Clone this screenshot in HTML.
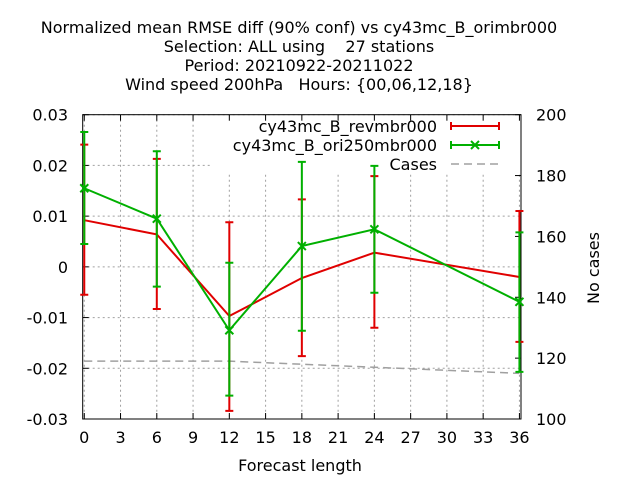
<!DOCTYPE html>
<html><head><meta charset="utf-8"><style>
body{margin:0;background:#fff;}
svg text{font-family:"DejaVu Sans","Liberation Sans",sans-serif;font-size:16px;fill:#000;}
</style></head><body>
<svg id="c" width="640" height="480" viewBox="0 0 640 480">
<g>
<text x="299" y="33" text-anchor="middle">Normalized mean RMSE diff (90% conf) vs cy43mc_B_orimbr000</text>
<text x="299" y="52" text-anchor="middle" xml:space="preserve">Selection: ALL using    27 stations</text>
<text x="299" y="71" text-anchor="middle">Period: 20210922-20211022</text>
<text x="299" y="90" text-anchor="middle" xml:space="preserve">Wind speed 200hPa   Hours: {00,06,12,18}</text>
</g>
<text x="300" y="471" text-anchor="middle">Forecast length</text>
<text transform="translate(599,268) rotate(-90)" text-anchor="middle">No cases</text>
<g id="grid"></g><g id="axes"></g><g id="series"></g><g id="legend"></g>
</svg>
<script>
const steps=[0,6,12,18,24,36];
const redVal=[0.0092,0.0064,-0.0097,-0.0022,0.0028,-0.0020];
const redHi=[0.0241,0.0213,0.0088,0.0133,0.0179,0.0110];
const redLo=[-0.0055,-0.0083,-0.0284,-0.0176,-0.0120,-0.0148];
const grnVal=[0.0155,0.0095,-0.0125,0.0041,0.0074,-0.0069];
const grnHi=[0.0266,0.0228,0.0008,0.0207,0.0199,0.0068];
const grnLo=[0.0045,-0.0039,-0.0254,-0.0126,-0.0051,-0.0207];
const cases=[119,119,119,118,117,115];
const xTicks=[0,3,6,9,12,15,18,21,24,27,30,33,36];
const yTicks=[-0.03,-0.02,-0.01,0,0.01,0.02,0.03];
const yTickLabels=["-0.03","-0.02","-0.01","0","0.01","0.02","0.03"];
const y2Ticks=[100,120,140,160,180,200];

const L=82.7,R=521,T=114.7,B=419;
const X=v=>L+(v+0.13)/(36.26)*(R-L);
const Y=v=>B-(v+0.03)/0.06*(B-T);
const Y2=v=>B-(v-100)/100*(B-T);
const NS='http://www.w3.org/2000/svg';
function mk(tag,attrs,parent){const e=document.createElementNS(NS,tag);for(const k in attrs)e.setAttribute(k,attrs[k]);document.getElementById(parent).appendChild(e);return e;}

xTicks.forEach(t=>{
 const g=mk('line',{x1:X(t),x2:X(t),y1:T,y2:B,stroke:'#a0a0a0','stroke-width':1,'stroke-dasharray':'2,3'},'grid');
 
 
 mk('line',{x1:X(t),x2:X(t),y1:B,y2:B-6,stroke:'#000'},'axes');
 mk('line',{x1:X(t),x2:X(t),y1:T,y2:T+6,stroke:'#000'},'axes');
 const tx=mk('text',{x:X(t),y:B+24,'text-anchor':'middle'},'axes');tx.textContent=t;
 
 
});
yTicks.forEach((t,i)=>{
 const g=mk('line',{x1:L,x2:R,y1:Y(t),y2:Y(t),stroke:'#a0a0a0','stroke-width':1,'stroke-dasharray':'2,3'},'grid');
 
 
 mk('line',{x1:L,x2:L+6,y1:Y(t),y2:Y(t),stroke:'#000'},'axes');
 const tx=mk('text',{x:68,y:Y(t)+6,'text-anchor':'end'},'axes');tx.textContent=yTickLabels[i];
 
 
});
y2Ticks.forEach(t=>{
 mk('line',{x1:R,x2:R-6,y1:Y2(t),y2:Y2(t),stroke:'#000'},'axes');
 const tx=mk('text',{x:536,y:Y2(t)+6},'axes');tx.textContent=t;
 
 
});
mk('rect',{x:210,y:T+1,width:R-211,height:58,fill:'#fff'},'grid');
const fr=mk('rect',{x:L,y:T,width:R-L,height:B-T,fill:'none',stroke:'#000','stroke-width':1},'axes');



const cl=mk('polyline',{points:steps.map((s,i)=>X(s)+','+Y2(cases[i])).join(' '),fill:'none',stroke:'#a0a0a0','stroke-width':1.5,'stroke-dasharray':'8,5'},'series');



function series(val,hi,lo,col,name,marker){
 const p=mk('polyline',{points:steps.map((s,i)=>X(s)+','+Y(val[i])).join(' '),fill:'none',stroke:col,'stroke-width':2},'series');
 
 
 steps.forEach((s,i)=>{
  const x=X(s);
  const e=mk('path',{d:`M${x},${Y(lo[i])}V${Y(hi[i])}M${x-4},${Y(lo[i])}h8M${x-4},${Y(hi[i])}h8`,stroke:col,'stroke-width':2,fill:'none'},'series');
  
  
  if(marker){const y=Y(val[i]);
   const m=mk('path',{d:`M${x-4},${y-4}l8,8M${x-4},${y+4}l8,-8`,stroke:col,'stroke-width':2},'series');
   
   }
 });
}
series(redVal,redHi,redLo,'#e00000','revmbr000',false);
series(grnVal,grnHi,grnLo,'#00b000','ori250mbr000',true);

const leg=[["cy43mc_B_revmbr000",'#e00000',0],["cy43mc_B_ori250mbr000",'#00b000',1],["Cases",'#a0a0a0',2]];
leg.forEach(([t,c,k],i)=>{
 const y=126+i*19;
 const tx=mk('text',{x:437,y:y+6,'text-anchor':'end'},'legend');tx.textContent=t;
 
 
 if(k<2){
  const l=mk('path',{d:`M451,${y}H499M451,${y-4}v8M499,${y-4}v8`,stroke:c,'stroke-width':2,fill:'none'},'legend');
  
  
  if(k==1){const m=mk('path',{d:`M471,${y-4}l8,8M471,${y+4}l8,-8`,stroke:c,'stroke-width':2},'legend');
   
   }
 }else{
  const l=mk('line',{x1:451,x2:499,y1:y,y2:y,stroke:c,'stroke-width':1.5,'stroke-dasharray':'8,5'},'legend');
  
  
 }
});
</script>
</body></html>
